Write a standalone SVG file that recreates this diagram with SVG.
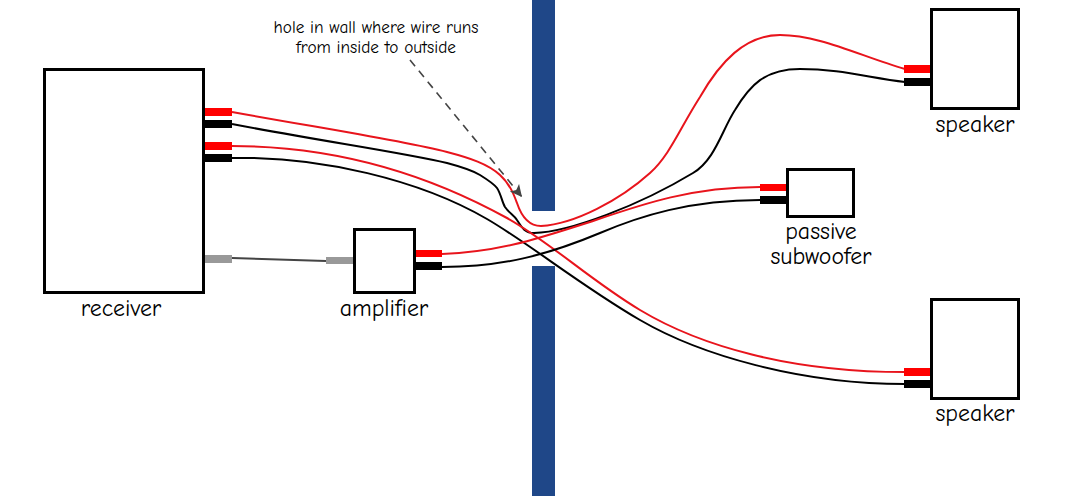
<svg xmlns="http://www.w3.org/2000/svg" width="1081" height="496" viewBox="0 0 1081 496">
<style>
text{font-family:"Comic Sans MS","Comic Neue","Noto Sans","DejaVu Sans",sans-serif;fill:#000;text-anchor:middle}
.lbl{font-size:23.800px}.note{font-size:17.300px}
.box{fill:#fff;stroke:#000;stroke-width:3}
.wall{fill:#1f4788}
.r{fill:#f00}.k{fill:#000}.g{fill:#999}
.wr,.wk{fill:none;stroke-width:2}.wr{stroke:#e8141c}.wk{stroke:#000}
</style>
<defs><marker id="ah" markerUnits="userSpaceOnUse" markerWidth="14" markerHeight="14" refX="12" refY="6" orient="auto"><path d="M0 0L12 6L0 12L3 6Z" fill="#444"/></marker></defs>
<g id="wall"><rect class="wall" x="532" y="0" width="23" height="211"/><rect class="wall" x="532" y="266" width="23" height="230"/></g>
<g id="connectors">
<path class="wr" d="M232 112C320 128 400 140 447 152C470 158 488 164 500 175C510 184 514 195 517 203C520 212 527 226 541 226C575 224 620 200 650 173C670 155 680 128 700 97C720 62 745 35 780 35C820 35 860 56 905 69"/>
<path class="wk" d="M232 124C320 141 400 152 447 163C462 167 472 170 480 175C488 180 494 184 497 188C501 194 502 202 505 207C509 213 514 215 517 220C521 226 524 233 534 233C570 232 640 205 693 173C715 160 722 130 735 110C750 85 765 69 800 69C840 69 870 78 905 82"/>
<path class="wr" d="M232 146C330 146 420 170 507 218C550 242 590 280 640 310C700 346 790 372 905 372"/>
<path class="wk" d="M232 158C320 156 420 180 487 219C530 244 580 285 640 320C700 355 800 384 905 384"/>
<path class="wr" d="M442 254C500 252 540 238 590 222C640 205 690 187 760 187"/>
<path class="wk" d="M442 267C500 267 545 256 600 233C640 216 690 200 760 200"/>
<path d="M232 258L326 261" fill="none" stroke="#444" stroke-width="2"/>
<path d="M410 60L522 197" fill="none" stroke="#444" stroke-width="1.600" stroke-dasharray="8 6" marker-end="url(#ah)"/>
</g>
<g id="receiver"><rect class="box" x="44.500" y="69.500" width="159" height="223"/>
<rect class="r" x="205" y="108" width="27" height="8"/><rect class="k" x="205" y="120" width="27" height="8"/><rect class="r" x="205" y="142" width="27" height="8"/><rect class="k" x="205" y="154" width="27" height="8"/><rect class="g" x="205" y="255" width="27" height="8"/>
<text class="lbl" x="121" y="316">receiver</text></g>
<g id="amplifier"><rect class="box" x="354.500" y="229.500" width="60" height="63"/>
<rect class="g" x="326" y="257" width="27" height="7"/><rect class="r" x="416" y="250" width="26" height="7"/><rect class="k" x="416" y="262" width="26" height="8"/>
<text class="lbl" x="384" y="316">amplifier</text></g>
<g id="subwoofer"><rect class="box" x="787.500" y="169.500" width="66" height="47"/>
<rect class="r" x="760" y="184" width="26" height="7"/><rect class="k" x="760" y="196" width="26" height="8"/>
<text class="lbl" x="821" y="239">passive</text><text class="lbl" x="821" y="264">subwoofer</text></g>
<g id="speaker-top"><rect class="box" x="931.500" y="9.500" width="87" height="99"/>
<rect class="r" x="904" y="65" width="26" height="8"/><rect class="k" x="904" y="78" width="26" height="8"/>
<text class="lbl" x="975" y="132">speaker</text></g>
<g id="speaker-bottom"><rect class="box" x="931.500" y="299.500" width="87" height="99"/>
<rect class="r" x="904" y="368" width="26" height="8"/><rect class="k" x="904" y="380" width="26" height="8"/>
<text class="lbl" x="975" y="421">speaker</text></g>
<g id="note"><text class="note" x="376" y="33">hole in wall where wire runs</text><text class="note" x="376" y="53">from inside to outside</text></g>
</svg>
